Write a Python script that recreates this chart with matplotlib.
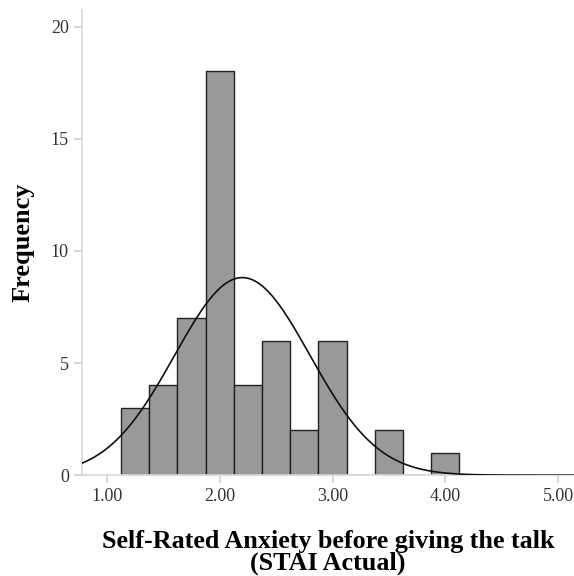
import numpy as np
import matplotlib
matplotlib.use("Agg")
import matplotlib.pyplot as plt

# Data
bin_edges = [1.125, 1.375, 1.625, 1.875, 2.125, 2.375, 2.625, 2.875, 3.125, 3.375, 3.625, 3.875, 4.125]
counts = [3, 4, 7, 18, 4, 6, 2, 6, 0, 2, 0, 1]
mean_val = 2.20
sd_val = 0.60
n_total = 53
x_ticks = [1.0, 2.0, 3.0, 4.0, 5.0]
x_ticklabels = ["1.00", "2.00", "3.00", "4.00", "5.00"]
y_ticks = [0, 5, 10, 15, 20]

plt.rcParams['font.family'] = ['Liberation Serif', 'DejaVu Serif']

fig = plt.figure(figsize=(5.74, 5.76), dpi=100)
ax = fig.add_axes([0.143, 0.175, 0.857, 0.808])

edges = np.array(bin_edges)
widths = np.diff(edges)
ax.bar(edges[:-1], counts, width=widths, align='edge', color='#999999',
       edgecolor='#222222', linewidth=1.0, zorder=2)

xs = np.linspace(0.78, 5.14, 400)
bw = widths[0]
ys = n_total * bw / (sd_val * np.sqrt(2 * np.pi)) * np.exp(-0.5 * ((xs - mean_val) / sd_val) ** 2)
ax.plot(xs, ys, color='#111111', linewidth=1.2, zorder=3)

ax.set_xlim(0.78, 5.14)
ax.set_ylim(0, 20.75)
ax.set_xticks(x_ticks)
ax.set_xticklabels(x_ticklabels)
ax.set_yticks(y_ticks)

for s in ['top', 'right']:
    ax.spines[s].set_visible(False)
for s in ['left', 'bottom']:
    ax.spines[s].set_color('#d9d9d9')
    ax.spines[s].set_linewidth(1.2)
ax.tick_params(axis='both', colors='#d0d0d0', labelcolor='#333333', labelsize=13,
               length=6, width=1.2)

ax.set_ylabel('Frequency', fontsize=19, fontweight='bold', labelpad=12)
ax.set_xlabel('Self-Rated Anxiety before giving the talk\n(STAI Actual)', fontsize=18.8,
              fontweight='bold', labelpad=18, linespacing=0.9)

fig.savefig('out.png', dpi=100)
